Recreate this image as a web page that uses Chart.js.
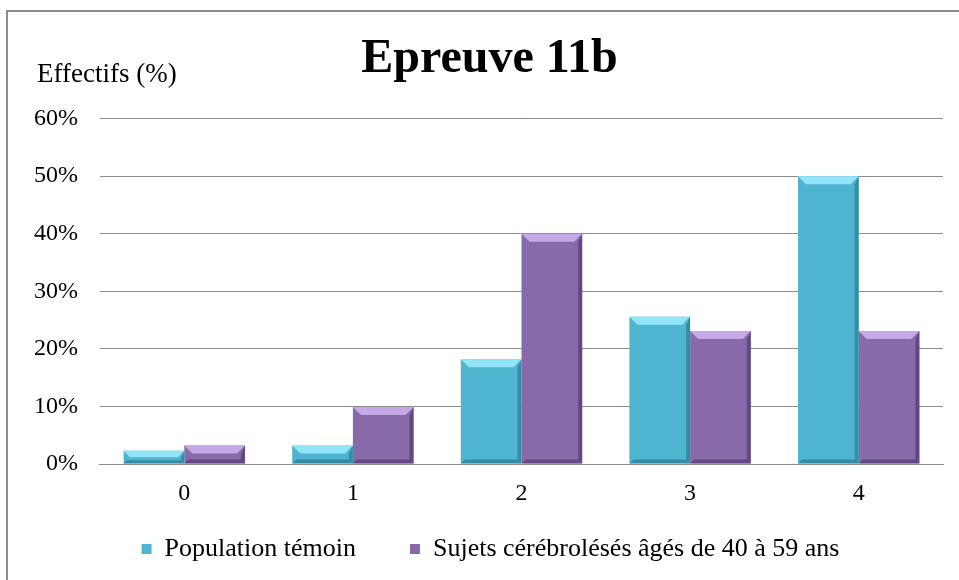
<!DOCTYPE html>
<html><head><meta charset="utf-8">
<script src="https://cdn.jsdelivr.net/npm/chart.js@4/dist/chart.umd.min.js"></script>
<style>
html,body{margin:0;padding:0;background:#fff;}
#frame{position:absolute;left:6px;top:10px;width:1000px;height:620px;border:2px solid #8c8c8c;box-sizing:border-box;}
#wrap{position:absolute;left:0;top:0;width:959px;height:580px;}
</style></head>
<body>
<div id="frame"></div>
<div id="wrap"><canvas id="c" width="959" height="580"></canvas></div>
<script>
const categories = ['0','1','2','3','4'];
const temoin = [2.3, 3.2, 18.2, 25.6, 50.0];
const cerebroleses = [3.2, 9.9, 40.0, 23.1, 23.1];
const seriesNames = ['Population témoin', 'Sujets cérébrolésés âgés de 40 à 59 ans'];
const yTicks = [0, 10, 20, 30, 40, 50, 60];

const serif = "'Liberation Serif', 'Times New Roman', serif";

const bevel = {
  id: 'bevel',
  afterDatasetsDraw(chart) {
    const ctx = chart.ctx;
    const lights = ['rgba(150,232,250,0.95)', 'rgba(200,172,235,0.95)'];
    const darks = ['rgba(30,110,135,0.55)', 'rgba(70,45,100,0.55)'];
    chart.data.datasets.forEach((ds, di) => {
      chart.getDatasetMeta(di).data.forEach(bar => {
        const l = bar.x - bar.width / 2, r = bar.x + bar.width / 2;
        const t = bar.y, b = bar.base;
        const h = b - t;
        const d = Math.min(8, h / 2);
        ctx.save();
        ctx.fillStyle = lights[di];
        ctx.beginPath();
        ctx.moveTo(l, t); ctx.lineTo(r, t); ctx.lineTo(r - d, t + d); ctx.lineTo(l + d, t + d); ctx.closePath();
        ctx.fill();
        ctx.fillStyle = darks[di];
        ctx.beginPath();
        ctx.moveTo(r, t); ctx.lineTo(r, b); ctx.lineTo(r - d * 0.5, b - d * 0.5); ctx.lineTo(r - d * 0.5, t + d); ctx.closePath();
        ctx.fill();
        ctx.beginPath();
        ctx.moveTo(l, b); ctx.lineTo(r, b); ctx.lineTo(r - d * 0.5, b - d * 0.5); ctx.lineTo(l + d * 0.5, b - d * 0.5); ctx.closePath();
        ctx.fill();
        ctx.restore();
      });
    });
  }
};

const yLabel = {
  id: 'yLabel',
  afterLayout(chart) {
    // let the x tick labels extend below the shortened axis box
    chart.scales.x.bottom = chart.height;
    // centre title and legend as in the original
    chart.titleBlock.left += 12; chart.titleBlock.right += 12;
    chart.legend.left += 13; chart.legend.right += 13;
  },
  afterDraw(chart) {
    const ctx = chart.ctx;
    ctx.save();
    ctx.font = "27px " + serif;
    ctx.fillStyle = '#000';
    ctx.textBaseline = 'middle';
    ctx.textAlign = 'left';
    ctx.fillText('Effectifs (%)', 37, 75);
    ctx.restore();
  }
};

new Chart(document.getElementById('c'), {
  type: 'bar',
  data: {
    labels: categories,
    datasets: [
      { label: seriesNames[0], data: temoin, backgroundColor: '#4fb4cf', borderWidth: 0 },
      { label: seriesNames[1], data: cerebroleses, backgroundColor: '#886aaa', borderWidth: 0 }
    ]
  },
  options: {
    responsive: false,
    animation: false,
    layout: { padding: { left: 12, right: 16, top: 10, bottom: 8 } },
    categoryPercentage: 0.72,
    barPercentage: 1.0,
    plugins: {
      title: {
        display: true,
        text: 'Epreuve 11b',
        color: '#000',
        font: { family: serif, size: 48, weight: 'bold' },
        padding: { top: 21, bottom: 30 }
      },
      legend: {
        position: 'bottom',
        labels: {
          color: '#000',
          font: { family: serif, size: 26 },
          boxWidth: 10, boxHeight: 10,
          padding: 54
        }
      },
      tooltip: { enabled: false }
    },
    scales: {
      x: {
        grid: { display: false, drawTicks: false },
        border: { color: '#8c8c8c', width: 1 },
        ticks: { color: '#000', font: { family: serif, size: 24 }, padding: 15 },
        afterFit(scale) { scale.height = 18; }
      },
      y: {
        min: 0, max: 60,
        afterBuildTicks(axis) { axis.ticks = yTicks.map(v => ({ value: v })); },
        grid: { color: '#8c8c8c', lineWidth: 1, drawTicks: false },
        border: { display: false },
        ticks: { color: '#000', font: { family: serif, size: 24 }, padding: 22, callback: v => v + '%' }
      }
    }
  },
  plugins: [bevel, yLabel]
});
</script>
</body></html>
